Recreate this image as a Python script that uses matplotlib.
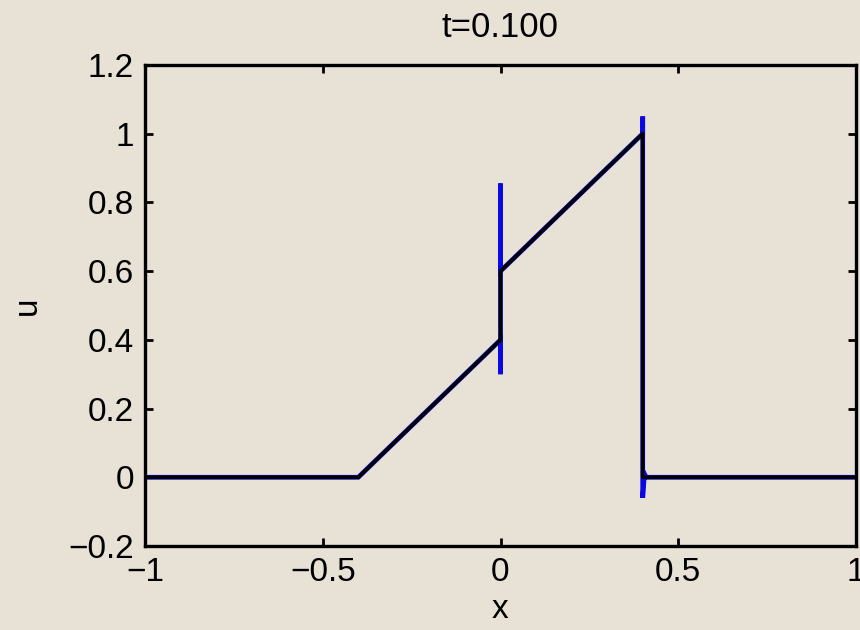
import matplotlib
matplotlib.use("Agg")
import matplotlib.pyplot as plt

# exact solution (black)
exact_x = [-1.0, -0.4, 0.0, 0.0, 0.4, 0.4, 1.0]
exact_u = [0.0, 0.0, 0.4, 0.6, 1.0, 0.0, 0.0]

# numerical solution with overshoots at discontinuities (blue)
num_x = [-1.0, -0.4, 0.0, 0.0, 0.0, 0.0, 0.4, 0.4, 0.4, 0.405, 0.41, 1.0]
num_u = [0.0, 0.0, 0.4, 0.30, 0.855, 0.6, 1.0, 1.05, -0.06, 0.01, 0.0, 0.0]

xticks = [-1, -0.5, 0, 0.5, 1]
xticklabels = ["\u22121", "\u22120.5", "0", "0.5", "1"]
yticks = [-0.2, 0, 0.2, 0.4, 0.6, 0.8, 1.0, 1.2]
yticklabels = ["\u22120.2", "0", "0.2", "0.4", "0.6", "0.8", "1", "1.2"]

bg = "#e8e1d6"
plt.rcParams["font.family"] = ["Liberation Sans", "DejaVu Sans"]

fig = plt.figure(figsize=(8.6, 6.3), dpi=100, facecolor=bg)
ax = fig.add_axes([145/860, 84/630, 711/860, 481/630])
ax.set_facecolor(bg)

ax.plot(num_x, num_u, color="#0a0ae0", lw=3.4, solid_joinstyle="miter")
ax.plot(exact_x, exact_u, color="black", lw=2.6)

ax.set_xlim(-1, 1)
ax.set_ylim(-0.2, 1.2)
ax.set_xticks(xticks)
ax.set_xticklabels(xticklabels)
ax.set_yticks(yticks)
ax.set_yticklabels(yticklabels)

for s in ax.spines.values():
    s.set_linewidth(2.4)
ax.tick_params(direction="in", length=6, width=2, top=True, right=True,
               labelsize=24, colors="black")
ax.tick_params(axis="x", pad=8)
ax.tick_params(axis="y", pad=8)

ax.set_title("t=0.100", fontsize=25, pad=20)
ax.set_xlabel("x", fontsize=24, labelpad=4)
ax.set_ylabel("u", fontsize=24, labelpad=18)

fig.savefig("out.png", dpi=100, facecolor=bg)
